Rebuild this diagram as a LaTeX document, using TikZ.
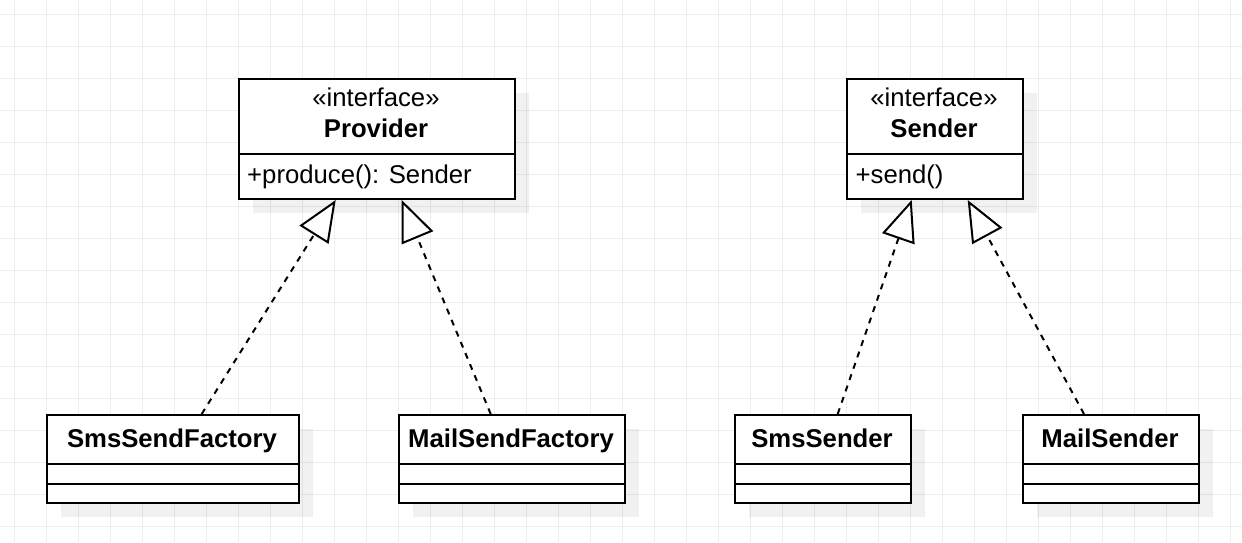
\documentclass[tikz,border=0pt]{standalone}
\usepackage{fontspec}
\setmainfont{Liberation Sans}
\usetikzlibrary{arrows.meta,shadows}
\definecolor{gridline}{RGB}{238,238,238}
\begin{document}
\begin{tikzpicture}[x=1pt,y=-1pt,
  gridl/.style={draw=gridline, line width=1pt},
  umlbox/.style={draw=black, line width=2pt, fill=white, rectangle, inner sep=0pt,
    anchor=north west,
    drop shadow={shadow xshift=14pt, shadow yshift=-14pt, fill=black, opacity=0.055}},
  rowline/.style={draw=black, line width=2pt},
  lbl/.style={inner sep=0pt, font=\fontsize{25.7}{30}\selectfont},
  blbl/.style={lbl, font=\fontsize{25.7}{30}\selectfont\bfseries},
  realize/.style={draw=black, line width=2pt, dash pattern=on 6pt off 6pt,
    -{Triangle[length=41pt,width=34pt,fill=white]}}]

% canvas and background grid
\useasboundingbox (0,0) rectangle (1242,542);
\fill[white] (0,0) rectangle (1242,542);
\foreach \i in {0,...,38} \draw[gridl] (14+32*\i,0) -- (14+32*\i,542);
\foreach \j in {0,...,16} \draw[gridl] (0,14+32*\j) -- (1242,14+32*\j);

% interface Provider
\node[umlbox, minimum width=276pt, minimum height=120pt] (prov) at (238,78) {};
\draw[rowline] ([yshift=-76pt]prov.north west) -- ([yshift=-76pt]prov.north east);
\node[lbl, anchor=base] (provStereo) at (376,106.7) {«interface»};
\node[blbl, anchor=base] (provName) at (376,137.7) {Provider};
\node[lbl, anchor=base west] (provOp) at (247,183) {+produce(): Sender};

% interface Sender
\node[umlbox, minimum width=176pt, minimum height=120pt] (snd) at (846,78) {};
\draw[rowline] ([yshift=-76pt]snd.north west) -- ([yshift=-76pt]snd.north east);
\node[lbl, anchor=base] (sndStereo) at (934,106.7) {«interface»};
\node[blbl, anchor=base] (sndName) at (934,137.7) {Sender};
\node[lbl, anchor=base west] (sndOp) at (855.5,183) {+send()};

% concrete classes
\foreach \nm/\x/\w/\txt in {smsf/46/252/SmsSendFactory, mailf/398/226/MailSendFactory,
                            smss/734/176/SmsSender, mails/1022/176/MailSender} {
  \node[umlbox, minimum width=\w pt, minimum height=87.5pt] (\nm) at (\x,414) {};
  \draw[rowline] ([yshift=-49.5pt]\nm.north west) -- ([yshift=-49.5pt]\nm.north east);
  \draw[rowline] ([yshift=-70pt]\nm.north west) -- ([yshift=-70pt]\nm.north east);
  \node[blbl, anchor=base] (\nm Name) at (\x+\w/2,447) {\txt};
}

% realizations
\draw[realize] ([xshift=155.7pt]smsf.north west) -- ([xshift=97.7pt]prov.south west);
\draw[realize] ([xshift=92.7pt]mailf.north west) -- ([xshift=163.7pt]prov.south west);
\draw[realize] ([xshift=103.7pt]smss.north west) -- ([xshift=65.7pt]snd.south west);
\draw[realize] ([xshift=62pt]mails.north west) -- ([xshift=121.7pt]snd.south west);
\end{tikzpicture}
\end{document}
